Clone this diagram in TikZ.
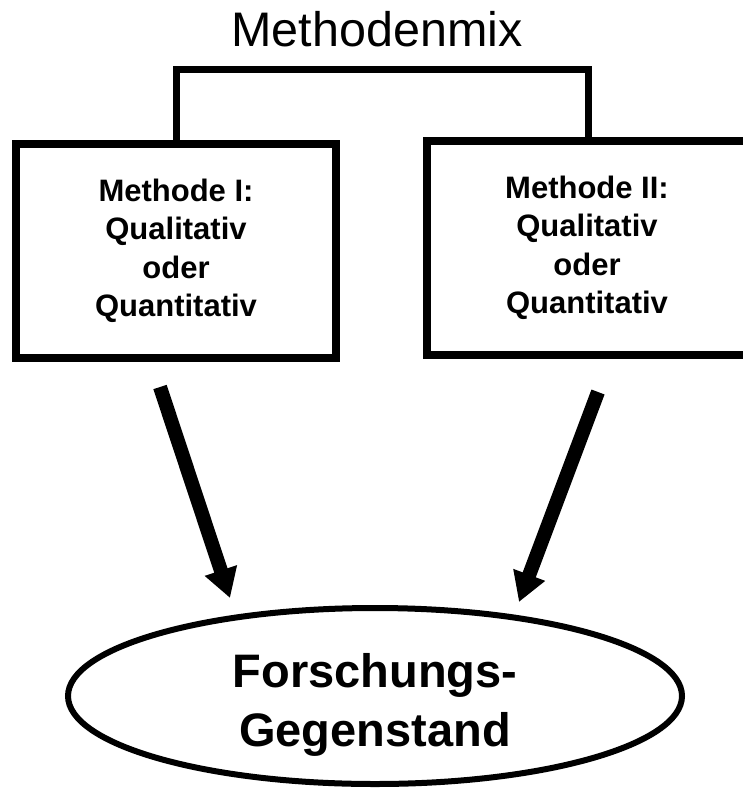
\documentclass[tikz,border=0pt]{standalone}
\usepackage{fontspec}
\setmainfont{Liberation Sans}
\usetikzlibrary{arrows.meta,shapes.geometric}
\begin{document}
\begin{tikzpicture}[x=1pt,y=-1pt,
  boxnode/.style={draw,line width=8pt,minimum width=320pt,minimum height=214pt,inner sep=0pt,align=center,
    font=\bfseries\fontsize{31}{38.5}\selectfont},
  bracket/.style={line width=7pt,line join=miter},
  bigarrow/.style={line width=14pt,-{Triangle[length=29pt,width=32pt]}},
  target/.style={draw,ellipse,line width=6pt,minimum width=614pt,minimum height=176pt,inner sep=0pt},
  targettext/.style={align=center,inner sep=0pt,font=\bfseries\fontsize{47}{59}\selectfont}]
\useasboundingbox (0,0) rectangle (742,789);
\node[anchor=base,font=\fontsize{48.5}{58}\selectfont] (title) at (377,47) {Methodenmix};
\node[boxnode] (b1) at (176,251) {Methode I:\\Qualitativ\\oder\\Quantitativ};
\node[boxnode] (b2) at (587,248) {Methode II:\\Qualitativ\\oder\\Quantitativ};
\coordinate (tl) at (176,70);
\coordinate (tr) at (588,70);
\draw[bracket] (b1.north -| tl) -- (tl) -- (tr) -- (b2.north -| tr);
\node[target] (ziel) at (375,696) {};
\node[targettext] (zieltext) at ([yshift=-9pt]ziel.center) {Forschungs-\\Gegenstand};
\coordinate (a1s) at (160,387);
\coordinate (a1e) at (230,598);
\coordinate (a2s) at (598,392);
\coordinate (a2e) at (519,602);
\draw[bigarrow] (a1s) -- (a1e);
\draw[bigarrow] (a2s) -- (a2e);
\end{tikzpicture}
\end{document}
